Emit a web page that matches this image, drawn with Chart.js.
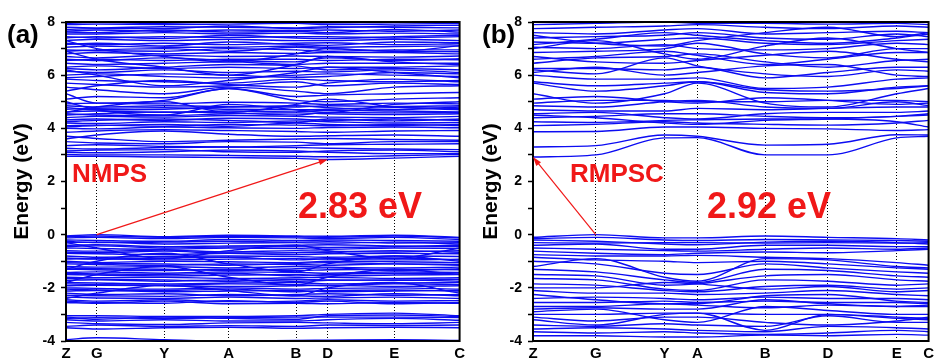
<!DOCTYPE html>
<html><head><meta charset="utf-8">
<script src="https://cdn.jsdelivr.net/npm/chart.js@4/dist/chart.umd.min.js"></script>
<style>
body{margin:0;background:#fff;width:938px;height:360px;overflow:hidden;display:flex}
canvas{display:block}
</style></head><body>
<canvas id="ca" width="469" height="360"></canvas><canvas id="cb" width="469" height="360"></canvas>
<script>
// ---------- DATA ----------
const kLabA = ['Z','G','Y','A','B','D','E','C'];
const kPosA = [0,31,99,164,232,264,331,397];
const kLabB = ['Z','G','Y','A','B','D','E','C'];
const kPosB = [0,63,132,165,233,296,365,397];
const yTickVals = [-4,-2,0,2,4,6,8];
const gapA = 2.83;
const gapB = 2.92;
const nameA = 'NMPS';
const nameB = 'RMPSC';

// panel (a) conduction bands (eV at Z,G,Y,A,B,D,E,C)
const condA = [
 [2.95,2.95,2.92,2.90,2.87,2.83,2.88,2.95],
 [3.02,3.00,3.00,2.98,2.95,2.93,2.97,3.02],
 [3.10,3.08,3.12,3.18,3.15,3.10,3.05,3.05],
 [3.15,3.18,3.20,3.12,3.10,3.15,3.18,3.12],
 [3.25,3.22,3.28,3.30,3.28,3.25,3.22,3.20],
 [3.35,3.38,3.32,3.30,3.35,3.38,3.40,3.42],
 [3.50,3.45,3.42,3.50,3.48,3.42,3.50,3.50],
 [3.70,3.62,3.50,3.55,3.60,3.62,3.58,3.55],
 [3.60,3.75,3.90,3.78,3.70,3.72,3.75,3.70],
 [3.85,3.90,3.95,3.92,3.88,3.85,3.90,3.92],
 [4.00,3.98,4.05,4.02,4.00,4.03,4.05,4.02],
 [4.05,4.10,4.15,4.08,4.20,4.15,4.10,4.15],
 [4.10,4.12,4.08,4.15,4.12,4.10,4.15,4.10],
 [4.20,4.18,4.25,4.22,4.28,4.25,4.20,4.22],
 [4.25,4.30,4.35,4.30,4.22,4.35,4.28,4.35],
 [4.32,4.35,4.30,4.38,4.35,4.30,4.35,4.30],
 [4.40,4.45,4.42,4.48,4.45,4.42,4.40,4.45],
 [4.50,4.55,4.62,4.58,4.50,4.60,4.58,4.60],
 [4.55,4.50,4.48,4.55,4.58,4.55,4.52,4.55],
 [4.62,4.65,4.60,4.65,4.62,4.68,4.65,4.62],
 [4.72,4.75,4.78,4.72,4.70,4.72,4.78,4.75],
 [4.78,4.70,4.72,4.80,4.85,4.78,4.70,4.80],
 [4.85,4.80,4.85,4.82,4.80,4.85,4.82,4.85],
 [4.92,4.95,4.92,4.98,4.95,4.90,4.95,4.92],
 [5.30,4.95,5.05,5.50,5.05,5.00,5.10,5.15],
 [5.10,5.20,5.15,5.50,5.20,5.25,5.30,5.35],
 [5.55,5.45,5.30,5.55,5.40,5.30,5.55,5.60],
 [5.40,5.60,5.80,5.65,5.55,5.70,5.85,5.75],
 [5.70,5.65,5.55,5.60,5.75,5.60,5.70,5.65],
 [5.85,5.80,5.75,5.70,5.85,5.80,5.75,5.80],
 [5.90,5.95,6.05,6.00,5.92,5.95,6.10,6.05],
 [6.00,6.05,5.95,5.90,6.00,6.05,6.00,5.95],
 [6.15,6.10,6.20,6.10,6.15,6.12,6.20,6.10],
 [6.25,6.20,6.30,6.40,6.35,6.20,6.25,6.20],
 [6.30,6.35,6.25,6.30,6.25,6.30,6.30,6.35],
 [6.45,6.40,6.45,6.50,6.40,6.45,6.45,6.45],
 [6.55,6.60,6.55,6.60,6.60,6.55,6.60,6.58],
 [6.60,6.55,6.65,6.55,6.50,6.65,6.55,6.62],
 [6.70,6.65,6.75,6.70,6.72,6.70,6.68,6.72],
 [6.80,6.85,6.80,6.85,6.82,6.85,6.85,6.80],
 [6.90,6.95,7.00,6.90,7.05,7.00,6.90,6.88],
 [6.95,6.92,6.90,7.00,6.95,6.90,6.95,6.95],
 [7.05,7.10,7.05,7.05,7.10,7.05,7.08,7.10],
 [7.15,7.20,7.10,7.25,7.15,7.12,7.25,7.22],
 [7.20,7.15,7.20,7.15,7.20,7.22,7.15,7.18],
 [7.30,7.35,7.30,7.35,7.30,7.30,7.35,7.30],
 [7.40,7.45,7.38,7.50,7.40,7.38,7.45,7.50],
 [7.45,7.40,7.45,7.42,7.45,7.45,7.40,7.45],
 [7.55,7.55,7.60,7.55,7.58,7.55,7.58,7.55],
 [7.62,7.60,7.70,7.62,7.65,7.60,7.72,7.62],
 [7.65,7.70,7.65,7.70,7.68,7.70,7.65,7.70],
 [7.72,7.75,7.75,7.85,7.75,7.78,7.85,7.88],
 [7.80,7.78,7.82,7.80,7.78,7.82,7.80,7.78],
 [7.90,7.92,7.90,7.92,7.95,7.90,7.92,7.95],
 [7.95,7.98,7.95,8.00,7.98,7.96,7.99,7.97],
 [6.20,6.00,5.60,5.80,6.10,6.30,6.10,5.90],
 [6.90,6.60,6.30,6.00,6.40,6.70,6.50,6.40],
 [7.30,7.00,6.70,6.50,6.80,7.00,6.90,7.10],
 [4.60,4.80,5.00,4.60,4.90,5.10,4.80,4.70],
 [5.00,4.70,4.50,4.90,4.70,4.60,4.90,5.00]
];
// panel (a) valence bands
const valA = [
 [-0.05,0.00,-0.08,-0.02,-0.05,-0.06,-0.02,-0.10],
 [-0.08,-0.05,-0.10,-0.06,-0.08,-0.10,-0.05,-0.12],
 [-0.12,-0.10,-0.15,-0.10,-0.12,-0.15,-0.10,-0.18],
 [-0.20,-0.22,-0.25,-0.18,-0.22,-0.20,-0.22,-0.25],
 [-0.25,-0.30,-0.28,-0.25,-0.28,-0.26,-0.32,-0.30],
 [-0.30,-0.28,-0.35,-0.32,-0.30,-0.32,-0.28,-0.35],
 [-0.40,-0.38,-0.45,-0.42,-0.40,-0.38,-0.42,-0.45],
 [-0.45,-0.42,-0.50,-0.46,-0.45,-0.48,-0.45,-0.40],
 [-0.50,-0.52,-0.55,-0.50,-0.52,-0.55,-0.50,-0.52],
 [-0.60,-0.62,-0.58,-0.65,-0.60,-0.62,-0.65,-0.60],
 [-0.65,-0.68,-0.62,-0.70,-0.68,-0.66,-0.60,-0.66],
 [-0.70,-0.72,-0.75,-0.70,-0.75,-0.72,-0.70,-0.72],
 [-0.80,-0.85,-0.82,-0.80,-0.82,-0.85,-0.80,-0.82],
 [-0.88,-0.92,-0.88,-0.85,-0.95,-0.90,-0.88,-0.95],
 [-0.92,-0.90,-0.95,-0.92,-0.90,-0.92,-0.95,-0.92],
 [-1.00,-1.05,-1.00,-1.02,-1.05,-1.00,-1.02,-1.05],
 [-1.05,-1.08,-1.10,-1.15,-1.08,-1.05,-1.10,-1.15],
 [-1.10,-1.12,-1.15,-1.10,-1.12,-1.15,-1.10,-1.12],
 [-1.20,-1.22,-1.20,-1.25,-1.20,-1.22,-1.25,-1.22],
 [-1.25,-1.28,-1.30,-1.35,-1.28,-1.25,-1.35,-1.28],
 [-1.30,-1.32,-1.35,-1.30,-1.35,-1.32,-1.30,-1.32],
 [-1.42,-1.40,-1.45,-1.40,-1.42,-1.45,-1.40,-1.42],
 [-1.45,-1.48,-1.50,-1.45,-1.55,-1.50,-1.45,-1.48],
 [-1.50,-1.52,-1.55,-1.52,-1.50,-1.55,-1.52,-1.50],
 [-1.60,-1.62,-1.60,-1.65,-1.62,-1.60,-1.65,-1.62],
 [-1.65,-1.68,-1.70,-1.75,-1.68,-1.70,-1.72,-1.68],
 [-1.72,-1.70,-1.75,-1.70,-1.75,-1.72,-1.70,-1.75],
 [-1.80,-1.82,-1.85,-1.82,-1.80,-1.85,-1.82,-1.80],
 [-1.85,-1.88,-1.90,-1.85,-1.88,-1.92,-1.85,-1.88],
 [-1.92,-1.90,-1.92,-1.95,-1.92,-1.90,-1.95,-1.92],
 [-2.00,-2.02,-2.05,-2.00,-2.05,-2.02,-2.00,-2.05],
 [-2.05,-2.08,-2.10,-2.05,-2.15,-2.10,-2.08,-2.12],
 [-2.12,-2.10,-2.15,-2.12,-2.10,-2.15,-2.12,-2.10],
 [-2.20,-2.25,-2.22,-2.30,-2.25,-2.22,-2.28,-2.25],
 [-2.28,-2.30,-2.32,-2.25,-2.30,-2.32,-2.22,-2.30],
 [-2.35,-2.38,-2.40,-2.35,-2.40,-2.38,-2.35,-2.40],
 [-2.45,-2.50,-2.45,-2.52,-2.50,-2.45,-2.50,-2.48],
 [-2.50,-2.55,-2.58,-2.48,-2.55,-2.50,-2.60,-2.55],
 [-2.55,-2.58,-2.50,-2.60,-2.58,-2.60,-2.55,-2.58],
 [-0.30,-0.50,-0.90,-0.60,-0.40,-0.60,-0.90,-0.50],
 [-1.30,-1.00,-0.70,-1.10,-1.40,-1.10,-0.80,-1.00],
 [-1.80,-1.50,-1.20,-1.60,-1.90,-1.60,-1.30,-1.50],
 [-2.40,-2.20,-1.90,-2.10,-2.30,-2.00,-1.80,-2.20],
 [-3.05,-3.05,-3.08,-3.08,-3.05,-3.00,-2.95,-3.05],
 [-3.10,-3.18,-3.10,-3.15,-3.18,-3.05,-3.02,-3.08],
 [-3.15,-3.12,-3.15,-3.12,-3.10,-3.10,-3.10,-3.12],
 [-3.20,-3.25,-3.20,-3.25,-3.25,-3.20,-3.15,-3.22],
 [-3.30,-3.35,-3.38,-3.32,-3.30,-3.32,-3.35,-3.30],
 [-3.45,-3.40,-3.45,-3.42,-3.45,-3.40,-3.42,-3.40],
 [-3.50,-3.55,-3.50,-3.48,-3.52,-3.50,-3.48,-3.50],
 [-3.95,-3.88,-3.95,-4.00,-3.98,-3.97,-3.95,-3.98]
];
// panel (b) conduction bands
const condB = [
 [2.92,3.00,3.64,3.65,3.00,3.00,3.64,3.70],
 [3.30,3.35,3.75,3.70,3.37,3.40,3.76,3.75],
 [3.87,3.88,4.05,4.05,4.00,3.98,3.92,3.95],
 [4.10,4.15,4.25,4.20,4.15,4.12,4.20,4.30],
 [4.25,4.22,4.30,4.32,4.35,4.35,4.25,4.05],
 [4.40,4.45,4.55,4.55,4.45,4.40,4.45,4.55],
 [4.50,4.40,4.20,4.15,4.30,4.35,4.45,4.50],
 [4.55,4.60,4.40,4.35,4.55,4.60,4.60,4.65],
 [4.70,4.65,4.65,4.75,4.70,4.75,4.80,4.80],
 [4.85,4.80,5.00,5.05,4.80,4.75,5.00,4.85],
 [4.95,5.05,5.05,5.00,5.00,5.05,5.05,5.00],
 [5.10,5.20,5.00,4.95,5.15,5.05,4.90,4.95],
 [5.30,4.95,5.30,5.70,4.95,4.80,5.30,5.50],
 [5.70,5.40,5.60,5.75,5.35,5.30,5.55,5.60],
 [5.75,5.60,5.70,5.75,5.45,5.40,5.50,5.60],
 [6.00,5.85,5.85,5.90,5.50,5.55,5.85,5.90],
 [6.10,6.30,6.00,6.10,6.35,6.40,6.00,5.95],
 [6.20,6.05,6.65,6.35,6.05,5.95,6.20,6.15],
 [6.25,6.25,6.20,6.30,5.90,6.10,6.30,6.30],
 [6.45,6.65,6.70,6.80,6.50,6.30,6.55,6.60],
 [6.60,6.70,6.90,6.75,6.40,6.60,6.85,6.85],
 [6.70,6.50,6.45,6.55,6.75,6.90,6.60,6.50],
 [6.85,6.90,7.00,7.20,6.80,6.65,7.00,7.00],
 [7.00,7.30,6.80,6.60,7.10,7.40,7.00,6.85],
 [7.05,7.00,7.15,7.00,6.95,7.00,7.20,7.15],
 [7.15,7.35,7.60,7.50,7.30,7.20,7.40,7.55],
 [7.25,7.20,7.35,7.40,7.20,7.15,7.30,7.35],
 [7.40,7.45,7.50,7.60,7.40,7.35,7.55,7.45],
 [7.50,7.20,7.10,7.30,7.60,7.80,7.45,7.60],
 [7.60,7.55,7.70,7.75,7.55,7.60,7.65,7.60],
 [7.75,7.80,7.85,7.90,7.80,7.75,7.85,7.80],
 [7.90,7.95,8.00,7.95,7.95,7.92,7.95,7.90]
];
// panel (b) valence bands
const valB = [
 [-0.10,0.00,-0.12,-0.12,-0.05,-0.10,-0.15,-0.20],
 [-0.15,-0.10,-0.20,-0.22,-0.18,-0.20,-0.22,-0.25],
 [-0.20,-0.25,-0.35,-0.38,-0.28,-0.25,-0.30,-0.35],
 [-0.30,-0.32,-0.30,-0.30,-0.32,-0.30,-0.32,-0.30],
 [-0.40,-0.35,-0.55,-0.55,-0.40,-0.40,-0.45,-0.45],
 [-0.50,-0.55,-0.60,-0.62,-0.55,-0.50,-0.55,-0.50],
 [-0.62,-0.70,-0.75,-0.70,-0.65,-0.68,-0.60,-0.55],
 [-0.75,-0.80,-0.80,-0.78,-0.85,-0.90,-1.05,-1.15],
 [-0.85,-0.95,-1.00,-1.05,-1.00,-1.10,-1.25,-1.30],
 [-1.20,-0.90,-1.60,-1.75,-0.90,-0.95,-1.20,-1.25],
 [-1.00,-1.10,-1.45,-1.50,-1.10,-1.25,-1.40,-1.45],
 [-1.30,-1.40,-1.70,-1.80,-1.30,-1.35,-1.55,-1.60],
 [-1.50,-1.55,-1.90,-1.85,-1.55,-1.50,-1.70,-1.75],
 [-1.65,-1.70,-2.05,-2.10,-1.70,-1.75,-1.90,-1.85],
 [-1.85,-1.90,-2.10,-2.15,-1.95,-1.90,-2.05,-2.00],
 [-2.00,-2.00,-1.80,-1.85,-2.05,-1.95,-2.15,-2.10],
 [-2.10,-2.20,-2.20,-2.25,-2.20,-2.10,-2.25,-2.30],
 [-2.25,-2.45,-2.60,-2.60,-2.30,-2.25,-2.50,-2.55],
 [-2.40,-2.35,-2.40,-2.45,-2.35,-2.40,-2.40,-2.45],
 [-2.55,-2.55,-2.50,-2.55,-2.50,-2.55,-2.55,-2.60],
 [-2.70,-2.70,-2.60,-2.65,-2.75,-2.65,-2.70,-2.65],
 [-2.80,-2.75,-2.80,-2.80,-2.45,-2.60,-2.70,-2.70],
 [-2.90,-2.80,-3.20,-3.30,-2.70,-2.85,-3.00,-3.00],
 [-3.00,-3.00,-2.95,-2.95,-3.00,-3.00,-3.10,-3.15],
 [-3.10,-3.25,-3.10,-3.10,-3.30,-3.40,-3.25,-3.10],
 [-3.20,-3.40,-3.00,-2.95,-3.60,-3.00,-3.15,-3.20],
 [-3.40,-3.45,-3.35,-3.40,-3.45,-3.05,-3.30,-3.30],
 [-3.55,-3.50,-3.55,-3.60,-3.65,-3.45,-3.50,-3.55],
 [-3.65,-3.70,-3.65,-3.70,-3.75,-3.70,-3.60,-3.65],
 [-3.80,-3.80,-3.85,-3.85,-3.78,-3.80,-3.75,-3.78]
];

// ---------- DRAWING ----------
const FONT = "'Liberation Sans', Arial, sans-serif";
const BLUE = 'rgb(12,12,242)';
const RED = 'rgb(240,24,24)';

function overlay(cfg){
  return {
    id:'overlay'+cfg.panel,
    afterDraw(chart){
      const {ctx, chartArea:a, scales:{x,y}} = chart;
      ctx.save();
      ctx.strokeStyle='#000'; ctx.lineWidth=2;
      ctx.strokeRect(a.left, a.top, a.width, a.height);
      ctx.fillStyle='#000';
      ctx.font='bold 26px '+FONT; ctx.textBaseline='alphabetic'; ctx.textAlign='left';
      ctx.fillText(cfg.panel, cfg.panelX, cfg.panelY);
      const x1=x.getPixelForValue(cfg.from[0]), y1=y.getPixelForValue(cfg.from[1]);
      const x2=x.getPixelForValue(cfg.to[0]), y2=y.getPixelForValue(cfg.to[1]);
      ctx.strokeStyle=RED; ctx.fillStyle=RED; ctx.lineWidth=1.2;
      const ang=Math.atan2(y2-y1,x2-x1);
      ctx.beginPath(); ctx.moveTo(x1,y1); ctx.lineTo(x2-7*Math.cos(ang),y2-7*Math.sin(ang)); ctx.stroke();
      ctx.beginPath(); ctx.moveTo(x2,y2);
      ctx.lineTo(x2-9*Math.cos(ang)+3*Math.sin(ang), y2-9*Math.sin(ang)-3*Math.cos(ang));
      ctx.lineTo(x2-9*Math.cos(ang)-3*Math.sin(ang), y2-9*Math.sin(ang)+3*Math.cos(ang));
      ctx.closePath(); ctx.fill();
      ctx.font='bold 26px '+FONT;
      ctx.fillText(cfg.name, cfg.nameX, cfg.nameY);
      ctx.font='bold 36px '+FONT;
      ctx.fillText(cfg.gapText, cfg.gapX, cfg.gapY);
      ctx.restore();
    }
  };
}

function build(id, kPos, kLab, cond, val, cfg){
  const bands = cond.concat(val);
  const datasets = bands.map(b => ({
    data: b.map((e,i)=>({x:kPos[i], y:e})),
    borderColor: BLUE, borderWidth: 1.4, pointRadius: 0,
    cubicInterpolationMode: 'monotone', fill: false
  }));
  return new Chart(document.getElementById(id), {
    type:'line',
    data:{datasets},
    options:{
      responsive:false, animation:false, events:[],
      layout:{padding:{left:0, right:cfg.padR, top:22, bottom:0}},
      plugins:{legend:{display:false}, tooltip:{enabled:false}},
      scales:{
        x:{type:'linear', min:kPos[0], max:kPos[kPos.length-1],
           afterBuildTicks:s=>{ s.ticks = kPos.map(v=>({value:v})); },
           ticks:{callback:(v,i)=>kLab[i], autoSkip:false, maxRotation:0, color:'#000',
                  font:{family:FONT, weight:'bold', size:15}, padding:4},
           grid:{color:'#000', lineWidth:1, drawTicks:false},
           border:{display:false, dash:[1,2]},
           afterFit:s=>{ s.height=19; }},
        y:{min:-4, max:8,
           afterBuildTicks:s=>{ const t=[]; for(let v=-4; v<=8; v++) t.push({value:v}); s.ticks=t; },
           ticks:{autoSkip:false, color:'#000', padding:6,
                  callback:v=> yTickVals.includes(v) ? String(v) : '',
                  font:{family:FONT, weight:'bold', size:14}},
           grid:{drawOnChartArea:false, tickLength:5, tickColor:'#000', tickWidth:1.5},
           border:{display:false},
           title:{display:true, text:'Energy (eV)', color:'#000',
                  font:{family:FONT, weight:'bold', size:21}, padding:{top:10, bottom:0}},
           afterFit:s=>{ s.width=cfg.yw; }}
      }
    },
    plugins:[overlay(cfg)]
  });
}

build('ca', kPosA, kLabA, condA, valA, {
  panel:'(a)', panelX:7, panelY:43, padR:7, yw:66,
  from:[kPosA[1],0], to:[kPosA[5],gapA],
  name:nameA, nameX:72, nameY:182,
  gapText:gapA.toFixed(2)+' eV', gapX:298, gapY:218
});
build('cb', kPosB, kLabB, condB, valB, {
  panel:'(b)', panelX:13, panelY:43, padR:8, yw:64,
  from:[kPosB[1],0], to:[kPosB[0],gapB],
  name:nameB, nameX:101, nameY:182,
  gapText:gapB.toFixed(2)+' eV', gapX:238, gapY:218
});
</script>
</body></html>
